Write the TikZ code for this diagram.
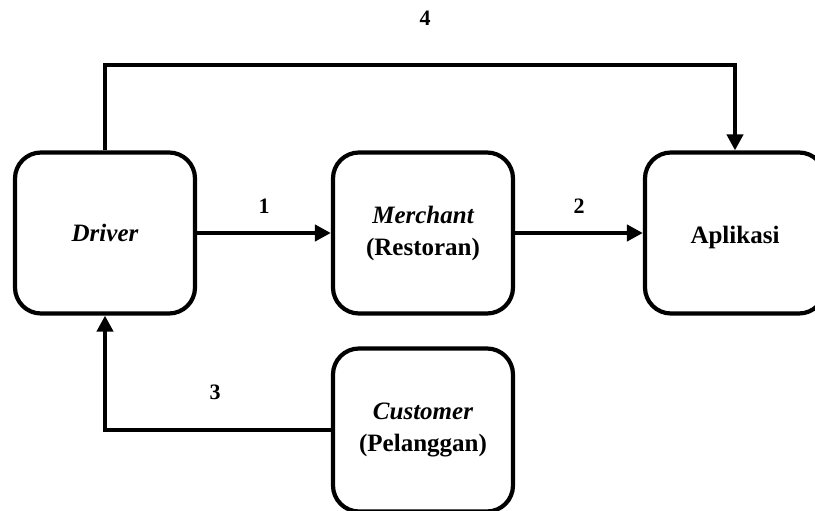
\documentclass[tikz,border=0pt]{standalone}
\usepackage{fontspec}
\setmainfont{Liberation Serif}
\usetikzlibrary{arrows.meta}
\begin{document}
\begin{tikzpicture}[x=1pt,y=-1pt,
  actor/.style={draw=black, line width=4.2pt, rounded corners=26pt,
    minimum width=180pt, minimum height=161pt, align=center,
    font=\fontsize{25}{32}\selectfont\bfseries},
  flow/.style={line width=4pt, -{Triangle[length=16pt,width=16pt]}},
  num/.style={font=\fontsize{22}{26}\selectfont\bfseries}]
\useasboundingbox (0,0) rectangle (815,511);
\node[actor] (driver)   at (105,233) {\itshape Driver};
\node[actor] (merchant) at (423,233) {\itshape Merchant\\(Restoran)};
\node[actor] (aplikasi) at (735,233) {\raisebox{-10pt}[0pt][0pt]{Aplikasi}};
\node[actor, minimum height=163pt] (customer) at (423,430) {\itshape Customer\\(Pelanggan)};
\coordinate (top4) at (105,65);
\draw[flow] (driver) -- (merchant) node[num, midway, above=14pt] {1};
\draw[flow] (merchant) -- (aplikasi) node[num, midway, above=14pt] {2};
\draw[flow] (customer.west) -| (driver.south);
\draw[flow] (driver.north) -- (top4) -| (aplikasi.north);
\node[num] (n3) at (215,392) {3};
\node[num] (n4) at (425,18) {4};
\end{tikzpicture}
\end{document}
